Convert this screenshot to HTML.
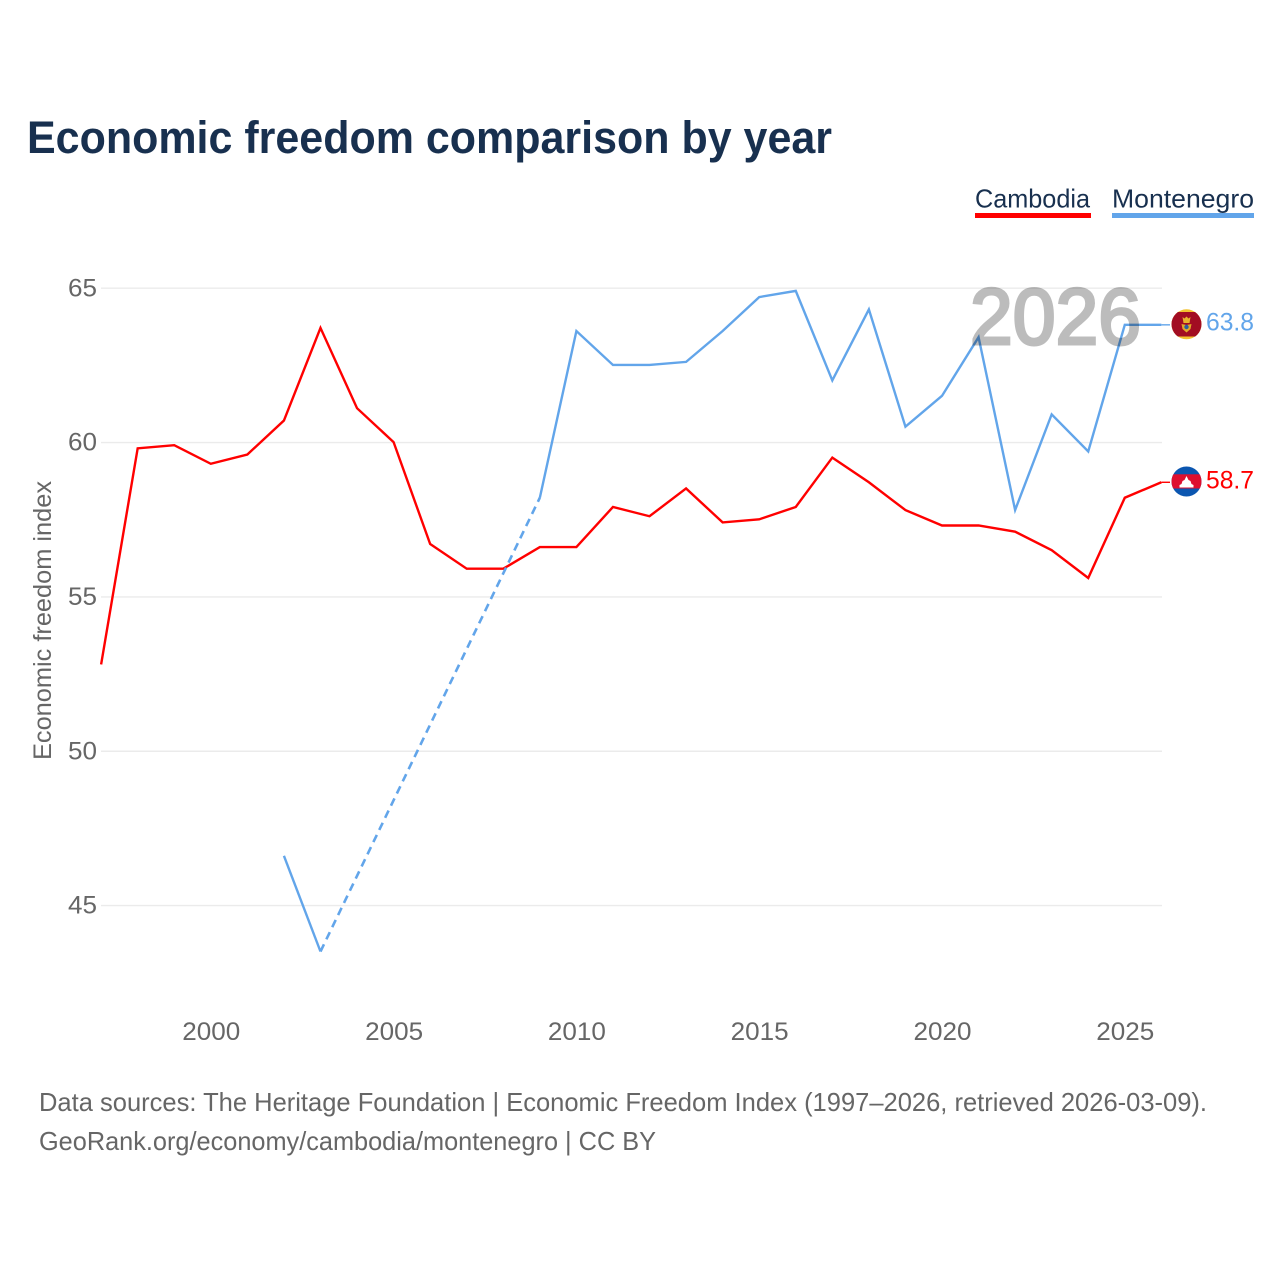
<!DOCTYPE html>
<html lang="en">
<head>
<meta charset="utf-8">
<title>Economic freedom comparison by year</title>
<style>
html,body{margin:0;padding:0;background:#fff;}
svg{display:block;font-family:"Liberation Sans",sans-serif;}
</style>
</head>
<body>
<svg id="chart" width="1280" height="1280" viewBox="0 0 1280 1280" xmlns="http://www.w3.org/2000/svg">
  <rect width="1280" height="1280" fill="#ffffff"/>
  <text x="27" y="153" font-size="45" font-weight="700" fill="#18304f" textLength="805" lengthAdjust="spacingAndGlyphs">Economic freedom comparison by year</text>

  <g>
    <text x="975" y="207.5" font-size="26" fill="#18304f" textLength="115" lengthAdjust="spacingAndGlyphs">Cambodia</text>
    <rect x="975" y="213" width="116" height="5" fill="#ff0000"/>
  </g>
  <g>
    <text x="1112" y="207.5" font-size="26" fill="#18304f" textLength="142" lengthAdjust="spacingAndGlyphs">Montenegro</text>
    <rect x="1112" y="213" width="142" height="5" fill="#62a5ea"/>
  </g>

  <g id="grid"></g>
  <g id="yticks"></g>
  <g id="xticks"></g>

  <text transform="translate(51,760) rotate(-90)" font-size="25" fill="#666666" textLength="279" lengthAdjust="spacingAndGlyphs">Economic freedom index</text>

  <g id="series"></g>

  <text x="1141" y="344" text-anchor="end" font-size="80" font-weight="400" fill="#000000" stroke="#000000" stroke-width="3" opacity="0.26" textLength="171" lengthAdjust="spacingAndGlyphs">2026</text>

  <g>
    <clipPath id="clipMe"><circle cx="1186.5" cy="324.3" r="15"/></clipPath>
    <g clip-path="url(#clipMe)">
      <rect x="1171" y="309" width="31" height="31" fill="#f2c230"/>
      <rect x="1171" y="312" width="31" height="24.5" fill="#a20d22"/>
      <path d="M1182.5 317l2 1.5 2-2 2 2 2-1.5-1 6h-6z" fill="#e8b32c"/>
      <path d="M1181.5 324l5 1 5-1-1 5-4 3.5-4-3.5z" fill="#e0a92a"/>
      <circle cx="1186.5" cy="327" r="2.2" fill="#2d5f9e"/>
    </g>
  </g>
  <g>
    <clipPath id="clipKh"><circle cx="1186.5" cy="481.5" r="15"/></clipPath>
    <g clip-path="url(#clipKh)">
      <rect x="1171" y="466" width="31" height="31" fill="#0b56b0"/>
      <rect x="1171" y="474.3" width="31" height="14.2" fill="#de0f2f"/>
      <path d="M1186.5 476l2 4 2 1 1 3 2 1v2.5h-14v-2.5l2-1 1-3 2-1z" fill="#ffffff"/>
    </g>
  </g>

  <text id="endMe" x="1206" y="330.5" font-size="25" fill="#62a5ea" textLength="48" lengthAdjust="spacingAndGlyphs"></text>
  <text id="endKh" x="1206" y="488.5" font-size="25" fill="#ff0000" textLength="48" lengthAdjust="spacingAndGlyphs"></text>

  <text x="39" y="1111" font-size="26" fill="#666666" textLength="1168" lengthAdjust="spacingAndGlyphs">Data sources: The Heritage Foundation | Economic Freedom Index (1997–2026, retrieved 2026-03-09).</text>
  <text x="39" y="1150" font-size="26" fill="#666666" textLength="617" lengthAdjust="spacingAndGlyphs">GeoRank.org/economy/cambodia/montenegro | CC BY</text>
</svg>
<script>
const years = [1997,1998,1999,2000,2001,2002,2003,2004,2005,2006,2007,2008,2009,2010,2011,2012,2013,2014,2015,2016,2017,2018,2019,2020,2021,2022,2023,2024,2025,2026];
const cambodia = [52.8,59.8,59.9,59.3,59.6,60.7,63.7,61.1,60.0,56.7,55.9,55.9,56.6,56.6,57.9,57.6,58.5,57.4,57.5,57.9,59.5,58.7,57.8,57.3,57.3,57.1,56.5,55.6,58.2,58.7];
const montenegro = [null,null,null,null,null,46.6,43.5,null,null,null,null,null,58.2,63.6,62.5,62.5,62.6,63.6,64.7,64.9,62.0,64.3,60.5,61.5,63.4,57.8,60.9,59.7,63.8,63.8];
const yTickValues = [45,50,55,60,65];
const xTickValues = [2000,2005,2010,2015,2020,2025];

const NS = 'http://www.w3.org/2000/svg';
function xScale(year){ return 210.8 + (year - 2000) * 36.56; }
function yScale(v){ return 287.8 + (65 - v) * 30.87; }
function make(tag, attrs, parent){
  const el = document.createElementNS(NS, tag);
  for (const k in attrs) el.setAttribute(k, attrs[k]);
  parent.appendChild(el);
  return el;
}
const gridG = document.getElementById('grid');
const yG = document.getElementById('yticks');
const xG = document.getElementById('xticks');
const seriesG = document.getElementById('series');

yTickValues.forEach(function(v){
  const line = make('line', {x1:101, x2:1162, y1:yScale(v)+0.4, y2:yScale(v)+0.4, stroke:'#ebebeb', 'stroke-width':1.4}, gridG);
  
  
  const t = make('text', {x:97, y:yScale(v)+8.5, 'text-anchor':'end', 'font-size':25, fill:'#666666', textLength:29, lengthAdjust:'spacingAndGlyphs'}, yG);
  t.textContent = v;
  
  
});
xTickValues.forEach(function(v){
  const t = make('text', {x:xScale(v)+0.5, y:1040, 'text-anchor':'middle', 'font-size':25, fill:'#666666', textLength:58, lengthAdjust:'spacingAndGlyphs'}, xG);
  t.textContent = v;
  
  
});

function drawSeries(values, color, name){
  let segment = [];
  let lastPoint = null;
  let gapOpen = false;
  const flush = function(){
    if (segment.length > 1) {
      const p = make('polyline', {points:segment.join(' '), fill:'none', stroke:color, 'stroke-width':2.4, 'stroke-linejoin':'miter'}, seriesG);
      
      
    }
    segment = [];
  };
  values.forEach(function(v, i){
    if (v === null) {
      if (lastPoint) { flush(); gapOpen = true; }
      return;
    }
    const pt = xScale(years[i]) + ',' + yScale(v);
    if (gapOpen) {
      const a = lastPoint.split(','), b = pt.split(',');
      const d = make('line', {x1:a[0], y1:a[1], x2:b[0], y2:b[1], stroke:color, 'stroke-width':2.6, 'stroke-dasharray':'8 5.5'}, seriesG);
      
      
      gapOpen = false;
    }
    segment.push(pt);
    lastPoint = pt;
  });
  flush();
  const lx = xScale(years[years.length-1]);
  const ly = yScale(values[values.length-1]);
  const c = make('line', {x1:lx, y1:ly, x2:1170, y2:ly, stroke:color, 'stroke-width':1.4}, seriesG);
  
  
}
drawSeries(cambodia, '#ff0000', 'cambodia');
drawSeries(montenegro, '#62a5ea', 'montenegro');

document.getElementById('endMe').textContent = montenegro[montenegro.length-1].toFixed(1);
document.getElementById('endKh').textContent = cambodia[cambodia.length-1].toFixed(1);
</script>
</body>
</html>
